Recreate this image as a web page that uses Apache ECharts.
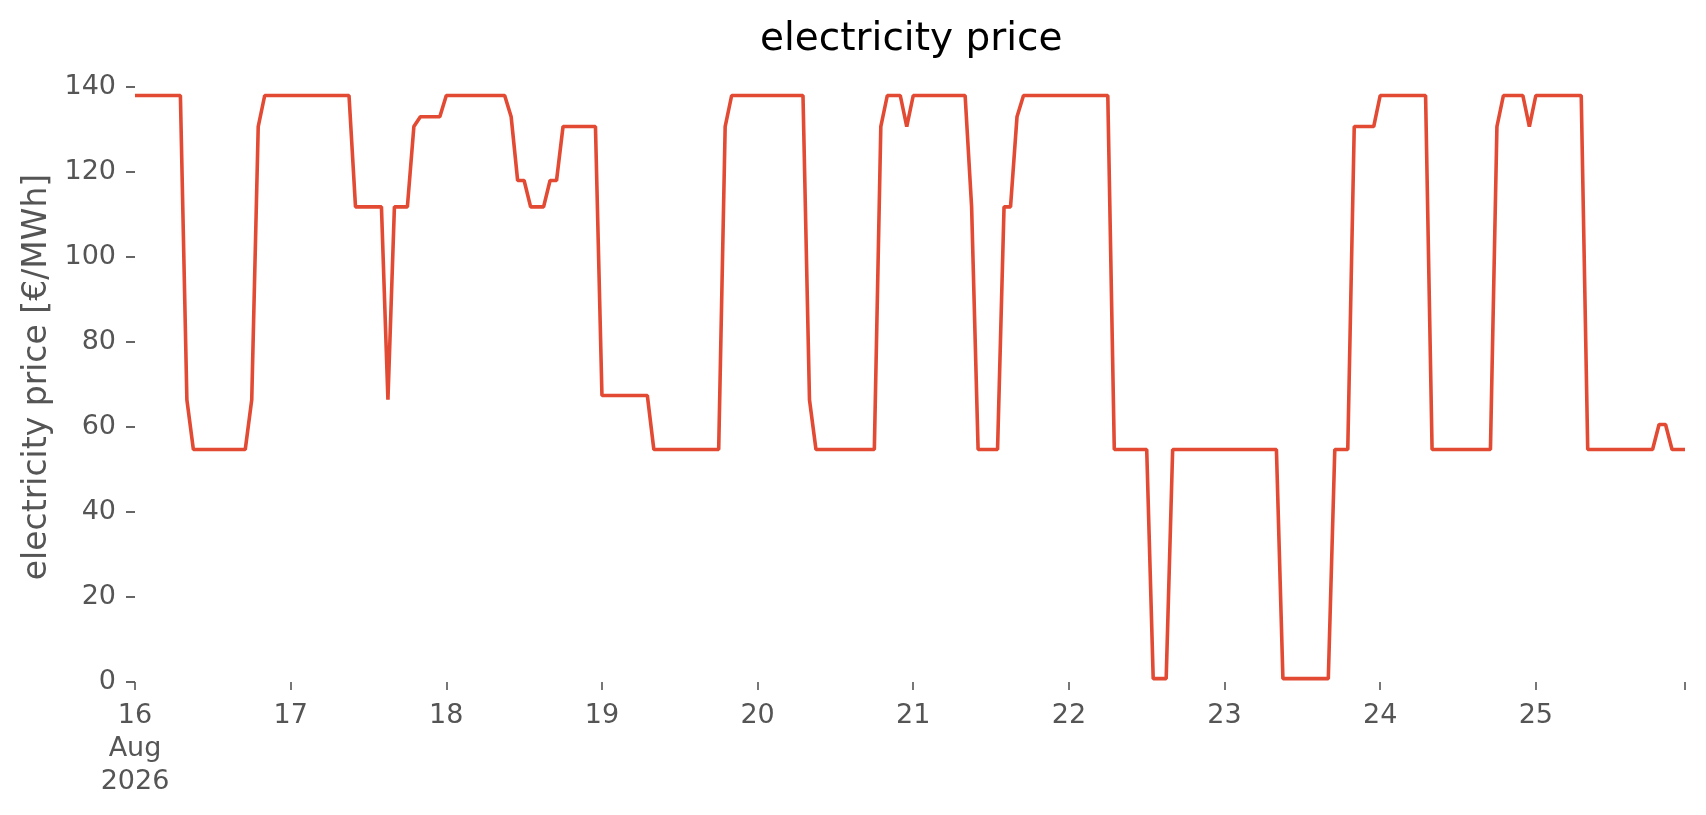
<!DOCTYPE html>
<html>
<head>
<meta charset="utf-8">
<title>electricity price</title>
<script src="https://cdn.jsdelivr.net/npm/echarts@6/dist/echarts.min.js"></script>
<style>
    html, body { margin: 0; padding: 0; background: #ffffff; }
    #chart { width: 1706px; height: 815px; }
</style>
</head>
<body>
<div id="chart"></div>
<script>
// hourly prices, 16 Aug 2026 00:00 .. 25 Aug 2026 23:00 (one row per day)
var startDay = 16;
var monthLabel = 'Aug';
var yearLabel = '2026';
var prices = [
    138, 138, 138, 138, 138, 138, 138, 138, 66.4, 54.7, 54.7, 54.7, 54.7, 54.7, 54.7, 54.7, 54.7, 54.7, 66.4, 130.7, 138, 138, 138, 138,
    138, 138, 138, 138, 138, 138, 138, 138, 138, 138, 111.8, 111.8, 111.8, 111.8, 111.8, 66.4, 111.8, 111.8, 111.8, 130.7, 133, 133, 133, 133,
    138, 138, 138, 138, 138, 138, 138, 138, 138, 138, 133, 118, 118, 111.8, 111.8, 111.8, 118, 118, 130.7, 130.7, 130.7, 130.7, 130.7, 130.7,
    67.4, 67.4, 67.4, 67.4, 67.4, 67.4, 67.4, 67.4, 54.7, 54.7, 54.7, 54.7, 54.7, 54.7, 54.7, 54.7, 54.7, 54.7, 54.7, 130.7, 138, 138, 138, 138,
    138, 138, 138, 138, 138, 138, 138, 138, 66.4, 54.7, 54.7, 54.7, 54.7, 54.7, 54.7, 54.7, 54.7, 54.7, 54.7, 130.7, 138, 138, 138, 130.7,
    138, 138, 138, 138, 138, 138, 138, 138, 138, 111.8, 54.7, 54.7, 54.7, 54.7, 111.8, 111.8, 133, 138, 138, 138, 138, 138, 138, 138,
    138, 138, 138, 138, 138, 138, 138, 54.7, 54.7, 54.7, 54.7, 54.7, 54.7, 0.8, 0.8, 0.8, 54.7, 54.7, 54.7, 54.7, 54.7, 54.7, 54.7, 54.7,
    54.7, 54.7, 54.7, 54.7, 54.7, 54.7, 54.7, 54.7, 54.7, 0.8, 0.8, 0.8, 0.8, 0.8, 0.8, 0.8, 0.8, 54.7, 54.7, 54.7, 130.7, 130.7, 130.7, 130.7,
    138, 138, 138, 138, 138, 138, 138, 138, 54.7, 54.7, 54.7, 54.7, 54.7, 54.7, 54.7, 54.7, 54.7, 54.7, 130.7, 138, 138, 138, 138, 130.7,
    138, 138, 138, 138, 138, 138, 138, 138, 54.7, 54.7, 54.7, 54.7, 54.7, 54.7, 54.7, 54.7, 54.7, 54.7, 54.7, 60.6, 60.6, 54.7, 54.7, 54.7
];
var yTicks = [0, 20, 40, 60, 80, 100, 120, 140];

var textGrey = '#555555';
var font = 'DejaVu Sans';

var myChart = echarts.init(document.getElementById('chart'));

var seriesData = prices.map(function (p, i) {
    return [i, p];
});

var option = {
    animation: false,
    backgroundColor: '#ffffff',
    title: {
        text: 'electricity price',
        left: 760,
        top: 20,
        padding: 0,
        textStyle: {
            fontFamily: font,
            fontSize: 39,
            fontWeight: 'normal',
            color: '#000000'
        }
    },
    grid: {
        left: 135,
        right: 21,
        top: 87,
        bottom: 133
    },
    xAxis: {
        type: 'value',
        min: 0,
        max: prices.length - 1,
        interval: 24,
        offset: 3,
        axisLine: { show: false },
        splitLine: { show: false },
        axisTick: {
            show: true,
            length: 8,
            lineStyle: { color: textGrey, width: 1.6 }
        },
        axisLabel: {
            showMinLabel: true,
            showMaxLabel: true,
            margin: 14,
            fontFamily: font,
            fontSize: 27,
            lineHeight: 33,
            color: textGrey,
            formatter: function (v) {
                if (v % 24 !== 0) return '';
                var day = startDay + v / 24;
                if (v === 0) return day + '\n' + monthLabel + '\n' + yearLabel;
                return String(day);
            }
        }
    },
    yAxis: {
        type: 'value',
        min: yTicks[0],
        max: yTicks[yTicks.length - 1],
        interval: yTicks[1] - yTicks[0],
        name: 'electricity price [€/MWh]',
        nameLocation: 'middle',
        nameGap: 81,
        nameTextStyle: {
            fontFamily: font,
            fontSize: 33,
            color: textGrey,
            padding: [0, 0, 0, 15]
        },
        axisLine: { show: false },
        splitLine: { show: false },
        axisTick: {
            show: true,
            length: 9,
            lineStyle: { color: textGrey, width: 1.8 }
        },
        axisLabel: {
            margin: 19,
            fontFamily: font,
            fontSize: 27,
            color: textGrey
        }
    },
    series: [{
        type: 'line',
        data: seriesData,
        showSymbol: false,
        symbol: 'none',
        lineStyle: { color: '#E24A33', width: 3.6 },
        itemStyle: { color: '#E24A33' }
    }]
};

myChart.setOption(option);
window.addEventListener('resize', function () {
    myChart.resize();
});
</script>
</body>
</html>
